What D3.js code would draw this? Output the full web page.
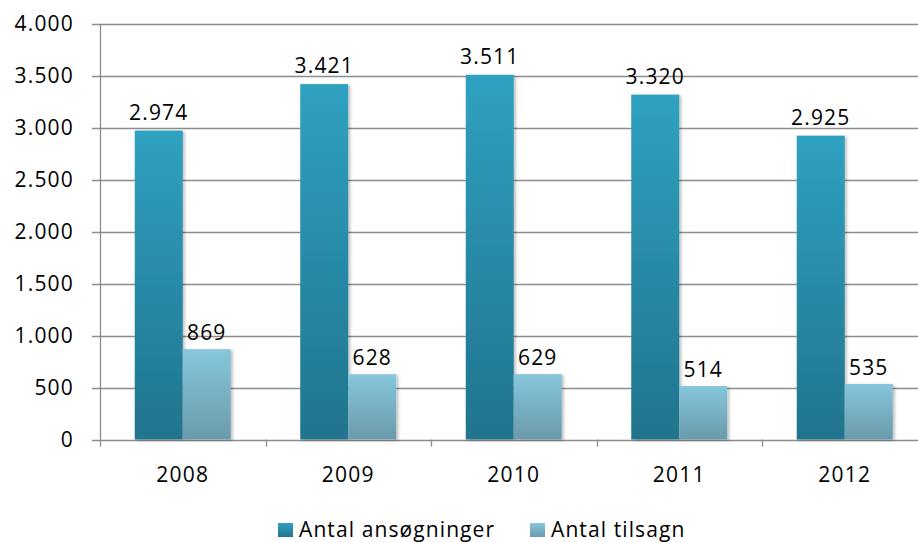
<!DOCTYPE html>
<html>
<head>
<meta charset="utf-8">
<script src="https://cdn.jsdelivr.net/npm/d3@7"></script>
<style>
  body { margin: 0; background: #fff; }
  svg text { font-family: "Open Sans", "Noto Sans", sans-serif; fill: #000; }
</style>
</head>
<body>
<svg id="chart" width="918" height="542"></svg>
<script>
// data
var years = ["2008", "2009", "2010", "2011", "2012"];
var ansogninger = [2974, 3421, 3511, 3320, 2925];
var tilsagn = [869, 628, 629, 514, 535];
var seriesNames = ["Antal ansøgninger", "Antal tilsagn"];
var yTicks = [0, 500, 1000, 1500, 2000, 2500, 3000, 3500, 4000];

var svg = d3.select("#chart");
var plotLeft = 100, plotTop = 24, plotBottom = 439.5, plotRight = 927.5;
var fontSize = 21, spacing = 1.2;

var fmt = function(v) { return d3.format(",")(v).replace(/,/g, "."); };

var x = d3.scaleBand().domain(years).range([plotLeft, plotRight]).paddingInner(0).paddingOuter(0);
var y = d3.scaleLinear().domain([0, 4000]).range([plotBottom, plotTop]);

// gradients
var defs = svg.append("defs");
function grad(id, c1, c2) {
	var g = defs.append("linearGradient").attr("id", id)
		.attr("x1", 0).attr("y1", 0).attr("x2", 0).attr("y2", 1);
	g.append("stop").attr("offset", "0%").attr("stop-color", c1);
	g.append("stop").attr("offset", "100%").attr("stop-color", c2);
}
grad("g-dark", "#2fa1c1", "#21748d");
grad("g-light", "#86c6dc", "#6a9aab");
var f = defs.append("filter").attr("id", "shadow").attr("x", "-20%").attr("y", "-5%").attr("width", "150%").attr("height", "115%");
f.append("feDropShadow").attr("dx", 2).attr("dy", 1).attr("stdDeviation", 1.5).attr("flood-color", "#000").attr("flood-opacity", 0.25);

// gridlines
svg.append("g").selectAll("line").data(yTicks).join("line")
	.attr("x1", 92).attr("x2", 918)
	.attr("y1", function(d) { return Math.round(y(d)) + 0.5; })
	.attr("y2", function(d) { return Math.round(y(d)) + 0.5; })
	.attr("stroke", "#8c8c8c").attr("stroke-width", 1.3);

// y labels
svg.append("g").selectAll("text").data(yTicks).join("text")
	.attr("x", 74).attr("y", function(d) { return y(d) + 7; })
	.attr("text-anchor", "end").attr("font-size", fontSize).attr("letter-spacing", spacing)
	.text(fmt);

// y axis line
svg.append("line").attr("x1", plotLeft + 0.5).attr("x2", plotLeft + 0.5).attr("y1", plotTop).attr("y2", plotBottom)
	.attr("stroke", "#8c8c8c").attr("stroke-width", 1.3);

// x ticks
var xTickPos = years.map(function(d) { return x(d); });
svg.append("g").selectAll("line").data(xTickPos).join("line")
	.attr("x1", function(d) { return Math.round(d) + 0.5; })
	.attr("x2", function(d) { return Math.round(d) + 0.5; })
	.attr("y1", plotBottom).attr("y2", plotBottom + 7)
	.attr("stroke", "#8c8c8c").attr("stroke-width", 1.3);

// bars
var barW = 48;
function center(yr) { return x(yr) + x.bandwidth() / 2; }
var bars = svg.append("g");
bars.selectAll("rect.a").data(years).join("rect").attr("class", "a")
	.attr("x", function(d) { return center(d) - barW; })
	.attr("y", function(d, i) { return y(ansogninger[i]); })
	.attr("width", barW)
	.attr("height", function(d, i) { return plotBottom - y(ansogninger[i]); })
	.attr("fill", "url(#g-dark)").attr("filter", "url(#shadow)");
bars.selectAll("rect.b").data(years).join("rect").attr("class", "b")
	.attr("x", function(d) { return center(d); })
	.attr("y", function(d, i) { return y(tilsagn[i]); })
	.attr("width", barW)
	.attr("height", function(d, i) { return plotBottom - y(tilsagn[i]); })
	.attr("fill", "url(#g-light)").attr("filter", "url(#shadow)");

// value labels
var labels = svg.append("g").attr("font-size", fontSize).attr("letter-spacing", spacing).attr("text-anchor", "middle");
labels.selectAll("text.a").data(years).join("text")
	.attr("x", function(d) { return center(d) - barW / 2; })
	.attr("y", function(d, i) { return y(ansogninger[i]) - 11; })
	.text(function(d, i) { return fmt(ansogninger[i]); });
labels.selectAll("text.b").data(years).join("text")
	.attr("x", function(d) { return center(d) + barW / 2; })
	.attr("y", function(d, i) { return y(tilsagn[i]) - 9; })
	.text(function(d, i) { return fmt(tilsagn[i]); });

// x labels
svg.append("g").selectAll("text").data(years).join("text")
	.attr("x", function(d) { return center(d); }).attr("y", 482)
	.attr("text-anchor", "middle").attr("font-size", fontSize).attr("letter-spacing", spacing)
	.text(function(d) { return d; });

// legend
var legend = svg.append("g");
var legX = [278, 530];
var legFill = ["url(#g-dark)", "url(#g-light)"];
seriesNames.forEach(function(n, i) {
	legend.append("rect").attr("x", legX[i]).attr("y", 523).attr("width", 15).attr("height", 14).attr("fill", legFill[i]);
	legend.append("text").attr("x", legX[i] + 21).attr("y", 537).attr("font-size", 21).attr("letter-spacing", 1.1).text(n);
});
</script>
</body>
</html>
